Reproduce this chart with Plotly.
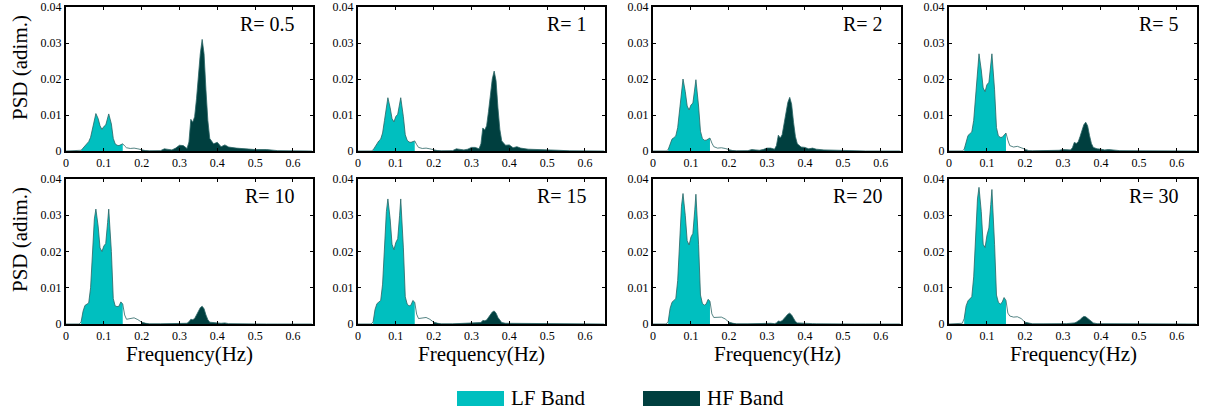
import plotly.graph_objects as go

# ---------------- data ----------------
# shared frequency grid (Hz)
freq = [0.000, 0.035, 0.040, 0.045, 0.050, 0.055, 0.060, 0.065, 0.070, 0.075,
        0.079, 0.085, 0.090, 0.095, 0.100, 0.105, 0.110, 0.113, 0.120, 0.125,
        0.130, 0.135, 0.140, 0.145, 0.150, 0.155, 0.160, 0.170, 0.180, 0.190,
        0.200, 0.210, 0.220, 0.250, 0.260, 0.270, 0.280, 0.290, 0.300, 0.310,
        0.320, 0.325, 0.330, 0.335, 0.340, 0.345, 0.350, 0.355, 0.360, 0.365,
        0.370, 0.375, 0.380, 0.390, 0.400, 0.410, 0.420, 0.430, 0.450, 0.500,
        0.530, 0.560, 0.650]

# PSD values in units of 1e-3 (adim.)
psd_R0_5 = [0, 0, 0.2, 0.8, 1.5, 1.9, 2.6, 3.8, 6.0, 8.8,
            10.4, 9.0, 7.0, 6.0, 6.8, 7.2, 9.0, 10.3, 7.5, 3.5,
            2.0, 1.6, 1.5, 1.8, 2.0, 1.4, 0.9, 0.7, 0.8, 0.6,
            0.3, 0.1, 0.05, 0.1, 0.6, 0.4, 0.3, 0.8, 1.6, 1.5,
            0.7, 2.5, 8.8, 8.0, 9.5, 14.5, 21.0, 27.0, 31.0, 27.0,
            17.0, 8.5, 3.5, 2.0, 2.4, 1.2, 1.7, 1.1, 0.8, 0.4,
            0.4, 0.1, 0]
psd_R1 = [0, 0, 0.3, 1.2, 2.3, 2.8, 3.3, 5.0, 8.5, 12.5,
          14.8, 12.0, 9.0, 8.1, 9.6, 10.2, 13.0, 14.8, 9.5, 4.5,
          3.0, 2.5, 2.4, 2.6, 2.8, 1.8, 1.0, 0.7, 0.8, 0.6,
          0.3, 0.1, 0.05, 0.1, 0.6, 0.4, 0.3, 0.5, 1.0, 1.0,
          0.6, 2.0, 6.4, 5.8, 7.0, 11.0, 16.0, 20.0, 22.2, 19.5,
          12.0, 6.0, 2.8, 1.6, 1.7, 0.9, 1.2, 0.8, 0.5, 0.2,
          0.2, 0.05, 0]
psd_R2 = [0, 0, 0.4, 1.8, 3.3, 3.7, 4.2, 6.5, 11.0, 16.5,
          20.0, 16.5, 12.5, 11.4, 12.8, 13.3, 17.0, 19.8, 12.5, 5.5,
          3.5, 3.0, 3.0, 3.4, 3.6, 2.2, 1.2, 0.8, 0.9, 0.7,
          0.3, 0.1, 0.05, 0.1, 0.4, 0.3, 0.2, 0.4, 0.8, 0.8,
          0.5, 1.5, 4.4, 3.6, 4.5, 7.5, 11.0, 13.5, 14.9, 13.0,
          8.0, 4.0, 2.0, 1.1, 1.0, 0.6, 0.8, 0.5, 0.3, 0.1,
          0.1, 0, 0]
psd_R5 = [0, 0, 0.5, 2.5, 4.3, 4.8, 5.3, 8.5, 15.0, 22.5,
          27.0, 22.5, 17.5, 16.5, 18.5, 19.0, 24.0, 27.0, 17.0, 6.5,
          4.2, 3.8, 3.8, 4.5, 5.0, 3.0, 1.5, 1.1, 1.3, 0.9,
          0.4, 0.1, 0.05, 0.05, 0.2, 0.2, 0.1, 0.2, 0.4, 0.4,
          0.3, 0.9, 2.4, 2.1, 2.5, 4.0, 6.0, 7.3, 8.0, 7.0,
          4.3, 2.1, 1.0, 0.6, 0.5, 0.3, 0.4, 0.3, 0.1, 0.05,
          0, 0, 0]
psd_R10 = [0, 0, 0.6, 3.5, 5.1, 5.5, 5.8, 10.0, 18.0, 29.0,
           31.7, 27.0, 21.0, 20.0, 21.5, 22.2, 28.0, 31.7, 20.0, 7.0,
           5.0, 4.8, 4.9, 6.1, 5.5, 2.5, 1.3, 1.5, 1.7, 1.2,
           0.5, 0.2, 0.05, 0.05, 0.1, 0.1, 0.1, 0.2, 0.3, 0.3,
           0.2, 0.6, 1.3, 1.2, 1.5, 2.5, 3.6, 4.5, 4.9, 4.2,
           2.5, 1.2, 0.5, 0.3, 0.3, 0.2, 0.3, 0.1, 0.05, 0,
           0, 0, 0]
psd_R15 = [0, 0, 0.6, 4.0, 5.6, 6.0, 6.5, 11.0, 20.0, 31.0,
           34.5, 29.0, 22.0, 20.5, 22.5, 23.5, 30.0, 34.5, 21.0, 7.5,
           5.5, 5.0, 5.2, 6.5, 6.0, 2.7, 1.5, 1.6, 1.8, 1.3,
           0.5, 0.2, 0.05, 0.05, 0.1, 0.1, 0.1, 0.1, 0.2, 0.2,
           0.2, 0.4, 1.0, 0.9, 1.1, 1.8, 2.6, 3.3, 3.6, 3.0,
           1.8, 0.9, 0.4, 0.2, 0.2, 0.1, 0.2, 0.1, 0, 0,
           0, 0, 0]
psd_R20 = [0, 0, 0.7, 4.3, 6.0, 6.5, 7.0, 12.0, 21.0, 32.5,
           36.0, 30.0, 23.0, 21.8, 24.0, 25.0, 31.5, 35.8, 22.0, 8.0,
           5.7, 5.2, 5.5, 6.8, 6.3, 2.8, 1.8, 1.8, 1.9, 1.4,
           0.5, 0.2, 0.05, 0.05, 0.1, 0.1, 0.1, 0.1, 0.2, 0.2,
           0.1, 0.3, 0.8, 0.7, 0.9, 1.4, 2.1, 2.7, 3.0, 2.5,
           1.5, 0.7, 0.3, 0.2, 0.1, 0.1, 0.1, 0.05, 0, 0,
           0, 0, 0]
psd_R30 = [0, 0.2, 1.5, 5.0, 6.4, 7.0, 7.5, 13.0, 24.0, 34.5,
           37.7, 31.0, 22.0, 21.1, 24.5, 26.5, 33.0, 37.1, 22.0, 8.0,
           6.0, 5.5, 6.0, 7.3, 6.5, 3.0, 2.2, 1.9, 2.0, 1.5,
           0.5, 0.2, 0.05, 0.05, 0.1, 0.1, 0.1, 0.1, 0.1, 0.1,
           0.1, 0.2, 0.3, 0.5, 0.8, 1.2, 1.7, 2.1, 2.0, 1.6,
           1.2, 0.6, 0.3, 0.1, 0.1, 0.05, 0.05, 0, 0, 0,
           0, 0, 0]

panel_labels = ["R= 0.5", "R= 1", "R= 2", "R= 5", "R= 10", "R= 15", "R= 20", "R= 30"]
panel_psd = [psd_R0_5, psd_R1, psd_R2, psd_R5, psd_R10, psd_R15, psd_R20, psd_R30]

lf_band = (0.04, 0.15)
hf_band = (0.20, 0.65)

x_ticks = [0, 0.1, 0.2, 0.3, 0.4, 0.5, 0.6]
x_ticktext = ["0", "0.1", "0.2", "0.3", "0.4", "0.5", "0.6"]
y_ticks = [0, 0.01, 0.02, 0.03, 0.04]
y_ticktext = ["0", "0.01", "0.02", "0.03", "0.04"]

# ---------------- style ----------------
W, H = 1205, 415
LF_COLOR = "#00bfbf"
HF_COLOR = "#003f3f"
LINE_COLOR = "#2a6464"
FONT = "Liberation Serif"

col_px = [(66, 313), (358, 605), (653, 901), (949, 1197)]
row_px = [(7, 151), (179, 324)]

fig = go.Figure()
layout = {}
annotations = []

for i, (label, vals) in enumerate(zip(panel_labels, panel_psd)):
    r, c = divmod(i, 4)
    k = i + 1
    xa = "x" if k == 1 else f"x{k}"
    ya = "y" if k == 1 else f"y{k}"
    y_si = [v * 1e-3 for v in vals]

    lf_x = [f for f in freq if lf_band[0] <= f <= lf_band[1]]
    lf_y = [v for f, v in zip(freq, y_si) if lf_band[0] <= f <= lf_band[1]]
    hf_x = [f for f in freq if hf_band[0] <= f <= hf_band[1]]
    hf_y = [v for f, v in zip(freq, y_si) if hf_band[0] <= f <= hf_band[1]]

    fig.add_trace(go.Scatter(x=lf_x, y=lf_y, mode="lines", fill="tozeroy",
                             fillcolor=LF_COLOR, line=dict(width=0),
                             xaxis=xa, yaxis=ya, showlegend=False, hoverinfo="skip"))
    fig.add_trace(go.Scatter(x=hf_x, y=hf_y, mode="lines", fill="tozeroy",
                             fillcolor=HF_COLOR, line=dict(width=0),
                             xaxis=xa, yaxis=ya, showlegend=False, hoverinfo="skip"))
    fig.add_trace(go.Scatter(x=freq, y=y_si, mode="lines",
                             line=dict(color=LINE_COLOR, width=0.8),
                             xaxis=xa, yaxis=ya, showlegend=False))

    x0, x1 = col_px[c]
    y0, y1 = row_px[r]
    common = dict(showline=True, linecolor="black", linewidth=2, mirror="ticks",
                  ticks="inside", ticklen=3, tickwidth=1.2, tickcolor="black",
                  showgrid=False, zeroline=False, automargin=False,
                  tickfont=dict(family=FONT, size=12, color="black"))
    layout[f"xaxis{k}"] = dict(common, domain=[x0 / W, x1 / W], range=[0, 0.653],
                               anchor=ya, tickvals=x_ticks, ticktext=x_ticktext)
    layout[f"yaxis{k}"] = dict(common, domain=[1 - y1 / H, 1 - y0 / H], range=[0, 0.04],
                               anchor=xa, tickvals=y_ticks, ticktext=y_ticktext)

    annotations.append(dict(text=label, xref=f"{xa} domain", yref=f"{ya} domain",
                            x=0.935, y=0.88, xanchor="right", yanchor="middle",
                            showarrow=False, font=dict(family=FONT, size=20, color="black")))
    if r == 1:
        annotations.append(dict(text="Frequency(Hz)", xref="paper", yref="paper",
                                x=(x0 + x1) / 2 / W, y=1 - 354 / H,
                                xanchor="center", yanchor="middle", showarrow=False,
                                font=dict(family=FONT, size=21, color="black")))
    if c == 0:
        annotations.append(dict(text="PSD (adim.)", xref="paper", yref="paper",
                                x=20 / W, y=1 - (68 if r == 0 else 240) / H,
                                xanchor="center", yanchor="middle", textangle=-90,
                                showarrow=False,
                                font=dict(family=FONT, size=21, color="black")))

# legend (drawn manually)
shapes = [
    dict(type="rect", xref="paper", yref="paper", x0=457 / W, x1=504 / W,
         y0=1 - 406 / H, y1=1 - 391 / H, fillcolor=LF_COLOR, line=dict(width=0)),
    dict(type="rect", xref="paper", yref="paper", x0=643 / W, x1=700 / W,
         y0=1 - 406 / H, y1=1 - 391 / H, fillcolor=HF_COLOR, line=dict(width=0)),
]
annotations.append(dict(text="LF Band", xref="paper", yref="paper", x=509 / W, y=1 - 398 / H,
                        xanchor="left", yanchor="middle", showarrow=False,
                        font=dict(family=FONT, size=21, color="black")))
annotations.append(dict(text="HF Band", xref="paper", yref="paper", x=705 / W, y=1 - 398 / H,
                        xanchor="left", yanchor="middle", showarrow=False,
                        font=dict(family=FONT, size=21, color="black")))

fig.update_layout(**layout)
fig.update_layout(width=W, height=H, margin=dict(l=0, r=0, t=0, b=0),
                  paper_bgcolor="white", plot_bgcolor="white",
                  annotations=annotations, shapes=shapes, showlegend=False)

fig.write_html("out.html", config={"displayModeBar": False},
               post_script="document.body.style.margin='0';document.body.style.overflow='hidden';")
